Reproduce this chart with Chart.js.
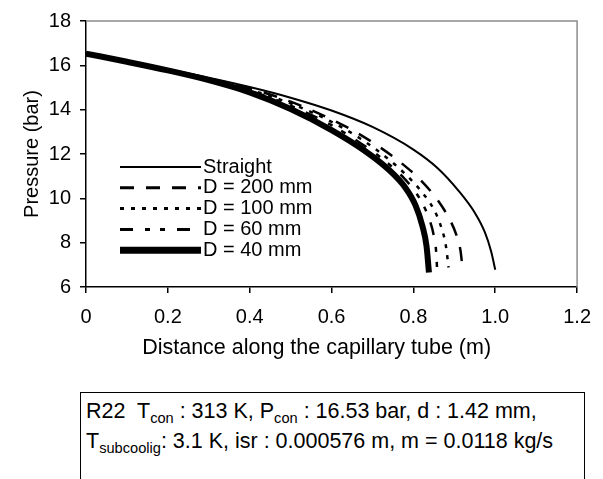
<!DOCTYPE html>
<html>
<head>
<meta charset="utf-8">
<script src="https://cdn.jsdelivr.net/npm/chart.js@4"></script>
<style>
  body { margin: 0; background: #fff; width: 603px; height: 479px; overflow: hidden; position: relative; }
  #wrap { position: absolute; left: 0; top: 0; width: 603px; height: 380px; }
  #note {
    position: absolute; left: 80px; top: 392px; width: 498px; height: 120px;
    border: 1.5px solid #000; padding: 3px 0 0 5px;
    font-family: "Liberation Sans", Arial, sans-serif; font-size: 21.5px; line-height: 30px; color: #000;
    white-space: nowrap;
  }
  #note sub { font-size: 0.68em; vertical-align: -0.35em; line-height: 0; }
</style>
</head>
<body>
<div id="wrap"><canvas id="chart_pressure"></canvas></div>
<div id="note">R22&nbsp; T<sub>con</sub> : 313 K, P<sub>con</sub> : 16.53 bar, d : 1.42 mm,<br>T<sub>subcoolig</sub>: 3.1 K, isr : 0.000576 m, m = 0.0118 kg/s</div>
<script>
// series (distance in m, pressure in bar)
var straightX = [0, 0.1, 0.2, 0.3, 0.4, 0.5, 0.6, 0.7, 0.8, 0.86, 0.91, 0.95, 0.975, 0.99, 1.0];
var straightY = [16.53, 16.18, 15.82, 15.44, 15.02, 14.54, 13.96, 13.22, 12.2, 11.35, 10.35, 9.35, 8.45, 7.6, 6.78];

var d200X = [0, 0.1, 0.2, 0.3, 0.4, 0.5, 0.6, 0.66, 0.72, 0.77, 0.82, 0.86, 0.89, 0.905, 0.915, 0.92];
var d200Y = [16.53, 16.17, 15.8, 15.41, 14.96, 14.36, 13.56, 12.98, 12.28, 11.6, 10.78, 9.9, 9.0, 8.35, 7.65, 6.86];

var d100X = [0, 0.1, 0.2, 0.3, 0.4, 0.5, 0.6, 0.67, 0.73, 0.78, 0.82, 0.85, 0.868, 0.879, 0.886];
var d100Y = [16.53, 16.17, 15.79, 15.38, 14.9, 14.28, 13.45, 12.7, 11.9, 11.1, 10.3, 9.5, 8.7, 7.9, 6.88];

var d60X = [0, 0.1, 0.2, 0.3, 0.4, 0.5, 0.6, 0.67, 0.73, 0.78, 0.815, 0.838, 0.85, 0.856, 0.858];
var d60Y = [16.53, 16.16, 15.78, 15.35, 14.85, 14.18, 13.3, 12.5, 11.7, 10.85, 10.0, 9.1, 8.3, 7.5, 6.75];

var d40X = [0, 0.1, 0.2, 0.3, 0.4, 0.5, 0.6, 0.68, 0.74, 0.78, 0.805, 0.822, 0.832, 0.838];
var d40Y = [16.53, 16.16, 15.77, 15.33, 14.78, 14.03, 13.08, 12.16, 11.29, 10.49, 9.69, 8.75, 7.85, 6.65];

var seriesLabels = ['Straight', 'D = 200 mm', 'D = 100 mm', 'D = 60 mm', 'D = 40 mm'];
var xTicks = [0, 0.2, 0.4, 0.6, 0.8, 1, 1.2];
var yTicks = [6, 8, 10, 12, 14, 16, 18];

var FONT = '"Liberation Sans", Arial, sans-serif';

function pairs(xs, ys) {
  return xs.map(function (x, i) { return { x: x, y: ys[i] }; });
}

function line(label, xs, ys, width, dash, legendWidth) {
  return {
    label: label,
    data: pairs(xs, ys),
    showLine: true,
    borderColor: '#000',
    backgroundColor: '#000',
    borderWidth: width,
    borderDash: dash,
    legendWidth: legendWidth,
    pointRadius: 0,
    fill: false,
    cubicInterpolationMode: 'monotone'
  };
}

// legend drawn inside the plot, like the original
var insideLegend = {
  id: 'insideLegend',
  afterDatasetsDraw: function (chart) {
    var ctx = chart.ctx;
    ctx.save();
    ctx.font = '20px ' + FONT;
    ctx.textBaseline = 'middle';
    ctx.fillStyle = '#000';
    chart.data.datasets.forEach(function (ds, i) {
      var y = 167 + i * 20.8;
      ctx.strokeStyle = '#000';
      ctx.lineWidth = ds.legendWidth;
      ctx.setLineDash(ds.borderDash);
      ctx.beginPath();
      ctx.moveTo(120, y);
      ctx.lineTo(201, y);
      ctx.stroke();
      ctx.setLineDash([]);
      ctx.fillText(ds.label, 203, y);
    });
    ctx.restore();
  }
};

// grey frame on the top and right side of the plot
var frame = {
  id: 'frame',
  afterDraw: function (chart) {
    var a = chart.chartArea, ctx = chart.ctx;
    ctx.save();
    ctx.strokeStyle = '#8c8c8c';
    ctx.lineWidth = 1.5;
    ctx.beginPath();
    ctx.moveTo(a.left, a.top);
    ctx.lineTo(a.right, a.top);
    ctx.lineTo(a.right, a.bottom);
    ctx.stroke();
    ctx.restore();
  }
};

var chart_pressure = new Chart(document.getElementById('chart_pressure'), {
  type: 'scatter',
  data: {
    datasets: [
      line(seriesLabels[0], straightX, straightY, 2, [], 2),
      line(seriesLabels[1], d200X, d200Y, 2.5, [14, 12], 3),
      line(seriesLabels[2], d100X, d100Y, 2.5, [4, 7], 3),
      line(seriesLabels[3], d60X, d60Y, 2.5, [13, 12, 5, 10, 5, 12], 3),
      line(seriesLabels[4], d40X, d40Y, 6, [], 7)
    ]
  },
  options: {
    animation: false,
    responsive: true,
    maintainAspectRatio: false,
    layout: { padding: { left: 20, right: 25, top: 20, bottom: 19 } },
    plugins: {
      legend: { display: false },
      tooltip: { enabled: false }
    },
    scales: {
      x: {
        type: 'linear',
        min: 0,
        max: 1.2,
        afterBuildTicks: function (s) { s.ticks = xTicks.map(function (v) { return { value: v }; }); },
        afterFit: function (s) { s.height = 74; },
        ticks: { color: '#000', font: { family: FONT, size: 20 }, padding: 12, maxRotation: 0 },
        grid: { drawOnChartArea: false, drawTicks: true, tickLength: 6, color: '#000', lineWidth: 1.5 },
        border: { color: '#000', width: 1.5 },
        title: {
          display: true,
          text: 'Distance along the capillary tube (m)\u00a0\u00a0\u00a0\u00a0\u00a0',
          color: '#000',
          font: { family: FONT, size: 21.5 },
          padding: 0
        }
      },
      y: {
        type: 'linear',
        min: 6,
        max: 18,
        afterBuildTicks: function (s) { s.ticks = yTicks.map(function (v) { return { value: v }; }); },
        afterFit: function (s) { s.width = 66; },
        ticks: { color: '#000', font: { family: FONT, size: 20 }, padding: 9 },
        grid: { drawOnChartArea: false, drawTicks: true, tickLength: 6, color: '#000', lineWidth: 1.5 },
        border: { color: '#000', width: 1.5 },
        title: {
          display: true,
          text: 'Pressure (bar)',
          color: '#000',
          font: { family: FONT, size: 20 },
          padding: 0
        }
      }
    }
  },
  plugins: [frame, insideLegend, {
    id: 'whiteBg',
    beforeDraw: function (chart) {
      var ctx = chart.canvas.getContext('2d');
      ctx.save();
      ctx.globalCompositeOperation = 'destination-over';
      ctx.fillStyle = 'white';
      ctx.fillRect(0, 0, chart.canvas.width, chart.canvas.height);
      ctx.restore();
    }
  }]
});
</script>
</body>
</html>
